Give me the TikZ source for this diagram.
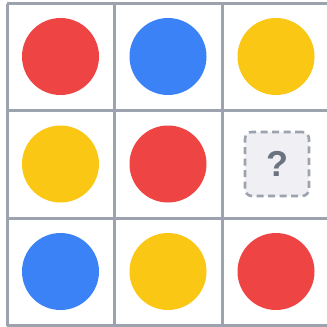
\documentclass[tikz,border=0pt]{standalone}
\usepackage{fontspec}
\setsansfont{Liberation Sans}
\usepackage{xcolor}
\definecolor{gridgray}{RGB}{156,163,175}
\definecolor{dotred}{RGB}{239,68,68}
\definecolor{dotblue}{RGB}{59,130,246}
\definecolor{dotyellow}{RGB}{250,199,21}
\definecolor{boxfill}{RGB}{240,240,244}
\definecolor{qgray}{RGB}{107,114,128}
\usetikzlibrary{positioning}

\begin{document}
\begin{tikzpicture}[x=1pt, y=-1pt,
  dot/.style={circle, inner sep=0pt, minimum size=77pt},
  gridline/.style={gridgray, line width=3pt},
  missing/.style={draw=gridgray, fill=boxfill, dashed, dash pattern=on 7pt off 4.5pt,
    line width=2.6pt, rounded corners=7pt, minimum size=64pt, inner sep=0pt,
    font=\sffamily\bfseries\fontsize{36}{36}\selectfont, text=qgray}]
  \useasboundingbox (0,0) rectangle (327,327);
  \fill[white] (0,0) rectangle (327,327);
  % 3x3 grid, right column runs off the edge
  \begin{scope}
    \clip (0,0) rectangle (327,327);
    \draw[gridline] (7,3.5) -- (340,3.5);
    \draw[gridline] (7,110.5) -- (340,110.5);
    \draw[gridline] (7,218) -- (340,218);
    \draw[gridline] (7,325.5) -- (340,325.5);
    \draw[gridline] (7,3.5) -- (7,325.5);
    \draw[gridline] (114.5,3.5) -- (114.5,325.5);
    \draw[gridline] (222,3.5) -- (222,325.5);
    \draw[gridline] (329.5,3.5) -- (329.5,325.5);
  \end{scope}
  % Row 1
  \node[dot, fill=dotred] (r1c1) at (60.5,56.5) {};
  \node[dot, fill=dotblue] (r1c2) at (168,56.5) {};
  \node[dot, fill=dotyellow] (r1c3) at (276,56.5) {};
  % Row 2
  \node[dot, fill=dotyellow] (r2c1) at (60.5,164) {};
  \node[dot, fill=dotred] (r2c2) at (168,164) {};
  \node[missing] (r2c3) at (277,164) {?};
  % Row 3
  \node[dot, fill=dotblue] (r3c1) at (60.5,271.5) {};
  \node[dot, fill=dotyellow] (r3c2) at (168,271.5) {};
  \node[dot, fill=dotred] (r3c3) at (276,271.5) {};
\end{tikzpicture}
\end{document}
